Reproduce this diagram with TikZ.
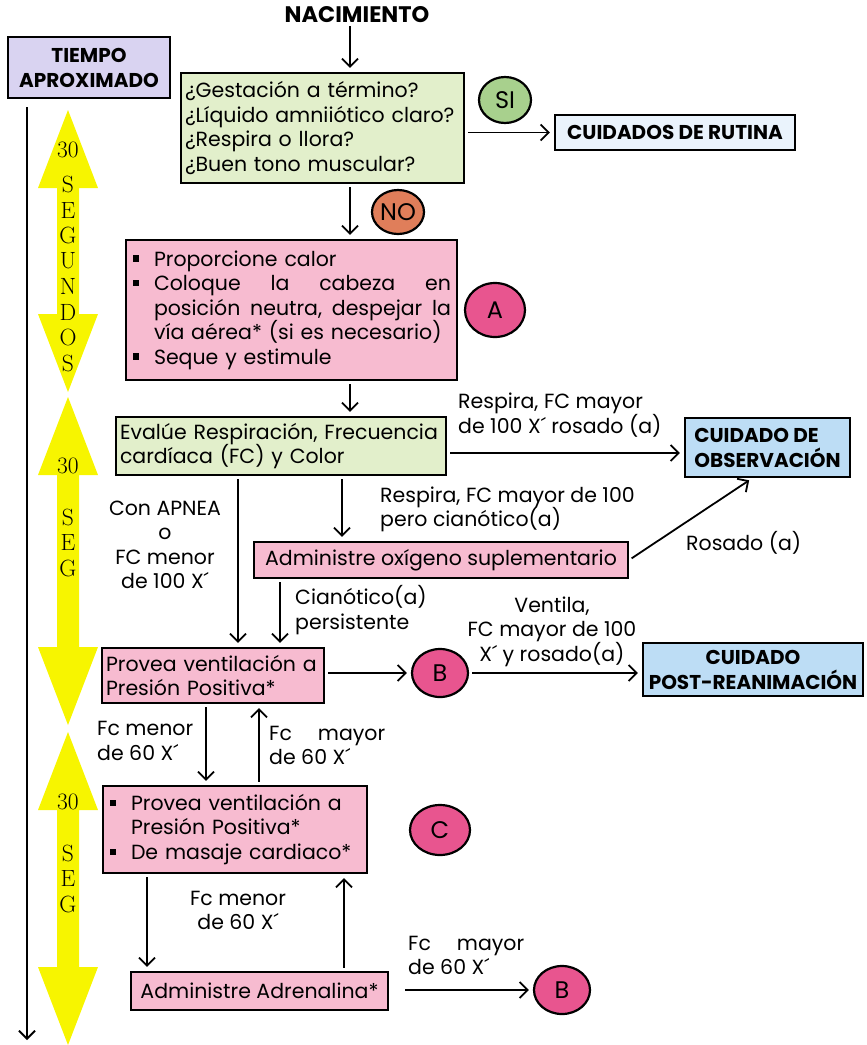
\documentclass[tikz,border=0pt]{standalone}
\usepackage{fontspec}
\usepackage{tikz}
\usetikzlibrary{positioning, arrows.meta, shapes.geometric}
\newfontfamily\gotica{Poppins}
\definecolor{verdeclaro}{HTML}{E2EFCB}
\definecolor{rosa}{HTML}{F7BBD0}
\definecolor{fucsia}{HTML}{E8558F}
\definecolor{naranja}{HTML}{E07E5A}
\definecolor{verdesi}{HTML}{A8D08D}
\definecolor{celeste}{HTML}{BDDDF5}
\definecolor{celestepal}{HTML}{EAF3FC}
\definecolor{lavanda}{HTML}{D9D3F1}
\definecolor{amarillo}{HTML}{F7F500}
\newcommand{\vineta}{\hspace*{3pt}\makebox[21pt][l]{\rule[0.22em]{0.3em}{0.3em}}}
\newcommand{\sangria}{\hspace*{24pt}}

\begin{document}
\begin{tikzpicture}[x=1pt,y=-1pt,
  >={Straight Barb[length=8pt,width=16pt]},
  every node/.style={font=\gotica\fontsize{20.5}{24.5}\selectfont},
  flecha/.style={->, line width=1.8pt, shorten >=4pt, shorten <=3pt},
  caja/.style={draw, line width=2.2pt, inner xsep=4pt, inner ysep=2pt, align=left},
  verde/.style={caja, fill=verdeclaro},
  rosada/.style={caja, fill=rosa},
  titulo/.style={caja, align=center, font=\gotica\bfseries\fontsize{20}{25}\selectfont},
  circulo/.style={ellipse, draw, line width=2.2pt, inner sep=0pt, font=\gotica\fontsize{24}{26}\selectfont},
  etiqueta/.style={inner sep=0pt, align=left},
  serie/.style={inner sep=0pt, font=\rmfamily\fontsize{23.5}{24}\selectfont}]

\useasboundingbox (0,0) rectangle (867,1045);

% eje de tiempo y flechas amarillas
\coordinate (ejeIni) at (27,107);
\coordinate (ejeFin) at (27,1040);
\draw[->, line width=1.8pt] (ejeIni) -- (ejeFin);
\foreach \ini/\fin in {110/392, 397/725, 732/1045}
  \fill[amarillo] (68,\ini) -- (98,\ini+78) -- (79,\ini+78) -- (79,\fin-78) -- (98,\fin-78)
    -- (68,\fin) -- (38,\fin-78) -- (57,\fin-78) -- (57,\ini+78) -- (38,\ini+78) -- cycle;
\node[serie] (treintaA) at (68,150) {30};
\foreach \letra [count=\i] in {S,E,G,U,N,D,O,S}
  \node[serie] (segA\i) at (68,{159+25.5*\i}) {\letra};
\node[serie] (treintaB) at (68,466) {30};
\foreach \letra [count=\i] in {S,E,G}
  \node[serie] (segB\i) at (68,{491.5+25.5*\i}) {\letra};
\node[serie] (treintaC) at (68,802) {30};
\foreach \letra [count=\i] in {S,E,G}
  \node[serie] (segC\i) at (68,{827.5+25.5*\i}) {\letra};

% cajas
\node[font=\gotica\bfseries\fontsize{22.5}{26}\selectfont, inner sep=0pt] (nac) at (357,15) {NACIMIENTO};
\node[titulo, fill=lavanda, minimum width=162pt, minimum height=61pt] (tiempo) at (89,67.5) {TIEMPO\\APROXIMADO};
\node[verde, text width=275pt, minimum height=110pt] (preg) at (322.5,128)
  {¿Gestación a término?\\¿Líquido amniiótico claro?\\¿Respira o llora?\\¿Buen tono muscular?};
\node[circulo, fill=verdesi, minimum width=52pt, minimum height=46pt] (si) at (505,100) {SI};
\node[titulo, fill=celestepal, minimum width=240pt, minimum height=35pt] (rutina) at (675,132.5) {CUIDADOS DE RUTINA};
\node[circulo, fill=naranja, minimum width=52pt, minimum height=44pt] (no) at (398,212) {NO};
\node[rosada, text width=323pt, minimum height=140pt] (pasoA) at (291.5,310)
  {\vineta Proporcione calor\\
   \vineta\makebox[297pt][l]{Coloque\hfill la\hfill cabeza\hfill en}\\
   \sangria\makebox[297pt][l]{posición\hfill neutra,\hfill despejar\hfill la}\\
   \sangria vía aérea* (si es necesario)\\
   \vineta Seque y estimule};
\node[circulo, fill=fucsia, minimum width=60pt, minimum height=54pt] (circA) at (495,310) {A};
\node[verde, text width=322pt, minimum height=58pt] (evalua) at (281,446)
  {Evalúe Respiración, Frecuencia\\cardíaca (FC) y Color};
\node[titulo, fill=celeste, align=left, minimum width=165pt, minimum height=59pt] (observ) at (767.5,447.5)
  {CUIDADO DE\\OBSERVACIÓN};
\node[rosada, minimum width=374pt, minimum height=36pt] (oxigeno) at (441,560) {Administre oxígeno suplementario};
\node[rosada, text width=214pt, minimum height=55pt] (ventila) at (213,675.5)
  {Provea ventilación a\\Presión Positiva*};
\node[circulo, fill=fucsia, minimum width=56pt, minimum height=48pt] (circB) at (440,673) {B};
\node[titulo, fill=celeste, minimum width=220pt, minimum height=53pt] (postrea) at (753,669.5)
  {CUIDADO\\POST-REANIMACIÓN};
\node[rosada, text width=256pt, minimum height=87pt] (masaje) at (235,829.5)
  {\vineta Provea ventilación a\\\sangria Presión Positiva*\\\vineta De masaje cardiaco*};
\node[circulo, fill=fucsia, minimum width=60pt, minimum height=50pt] (circC) at (440,830) {C};
\node[rosada, minimum width=257pt, minimum height=38pt] (adren) at (259.5,991) {Administre Adrenalina*};
\node[circulo, fill=fucsia, minimum width=56pt, minimum height=48pt] (circB2) at (562,990) {B};

% etiquetas
\node[etiqueta, anchor=west] (l1) at (458,415) {Respira, FC mayor\\de 100 X´ rosado (a)};
\node[etiqueta, anchor=west] (l2) at (380,509.5) {Respira, FC mayor de 100\\pero cianótico(a)};
\node[etiqueta, anchor=west] (l3) at (686,543) {Rosado (a)};
\node[etiqueta, align=center] (l4) at (165,545) {Con APNEA\\o\\FC menor\\de 100 X´};
\node[etiqueta, anchor=west] (l5) at (295,610) {Cianótico(a)\\persistente};
\node[etiqueta, align=center] (l6) at (552,631.5) {Ventila,\\FC mayor de 100\\X´ y rosado(a)};
\node[etiqueta, anchor=west] (l7) at (97,741) {Fc menor\\de 60 X´};
\node[etiqueta, anchor=west] (l8) at (269,745.5) {\makebox[116pt][l]{Fc\hfill mayor}\\de 60 X´};
\node[etiqueta, align=center] (l9) at (238,910.5) {Fc menor\\de 60 X´};
\node[etiqueta, anchor=west] (l10) at (408,955.5) {\makebox[116pt][l]{Fc\hfill mayor}\\de 60 X´};

% conectores
\draw[flecha] ([xshift=-7pt]nac.south) -- ([xshift=27.5pt]preg.north);
\draw[flecha] (preg.east |- rutina.west) -- (rutina.west);
\draw[flecha] ([xshift=27.5pt]preg.south) -- ([xshift=27.5pt]preg.south |- pasoA.north);
\draw[flecha] ([xshift=58.5pt]pasoA.south) -- ([xshift=58.5pt]pasoA.south |- evalua.north);
\draw[flecha] ([yshift=-7pt]evalua.east) -- ([yshift=-7pt]evalua.east -| observ.west);
\draw[flecha] ([xshift=61pt]evalua.south) -- ([xshift=61pt]evalua.south |- oxigeno.north);
\draw[flecha] ([xshift=-43pt]evalua.south) -- ([xshift=-43pt]evalua.south |- ventila.north);
\draw[flecha] (oxigeno.east) -- ([xshift=-15pt]observ.south);
\draw[flecha] ([xshift=-161pt]oxigeno.south) -- ([xshift=-161pt]oxigeno.south |- ventila.north);
\draw[flecha] (ventila.east |- circB.west) -- (circB.west);
\draw[flecha] (circB.east) -- (circB.east -| postrea.west);
\draw[flecha] ([xshift=-7pt]ventila.south) -- ([xshift=-7pt]ventila.south |- masaje.north);
\draw[flecha] ([xshift=24pt]masaje.north) -- ([xshift=24pt]masaje.north |- ventila.south);
\draw[flecha] ([xshift=-88pt]masaje.south) -- ([xshift=-88pt]masaje.south |- adren.north);
\draw[flecha] ([xshift=84.5pt]adren.north) -- ([xshift=84.5pt]adren.north |- masaje.south);
\draw[flecha, shorten <=16pt] (adren.east |- circB2.west) -- (circB2.west);
\end{tikzpicture}
\end{document}
